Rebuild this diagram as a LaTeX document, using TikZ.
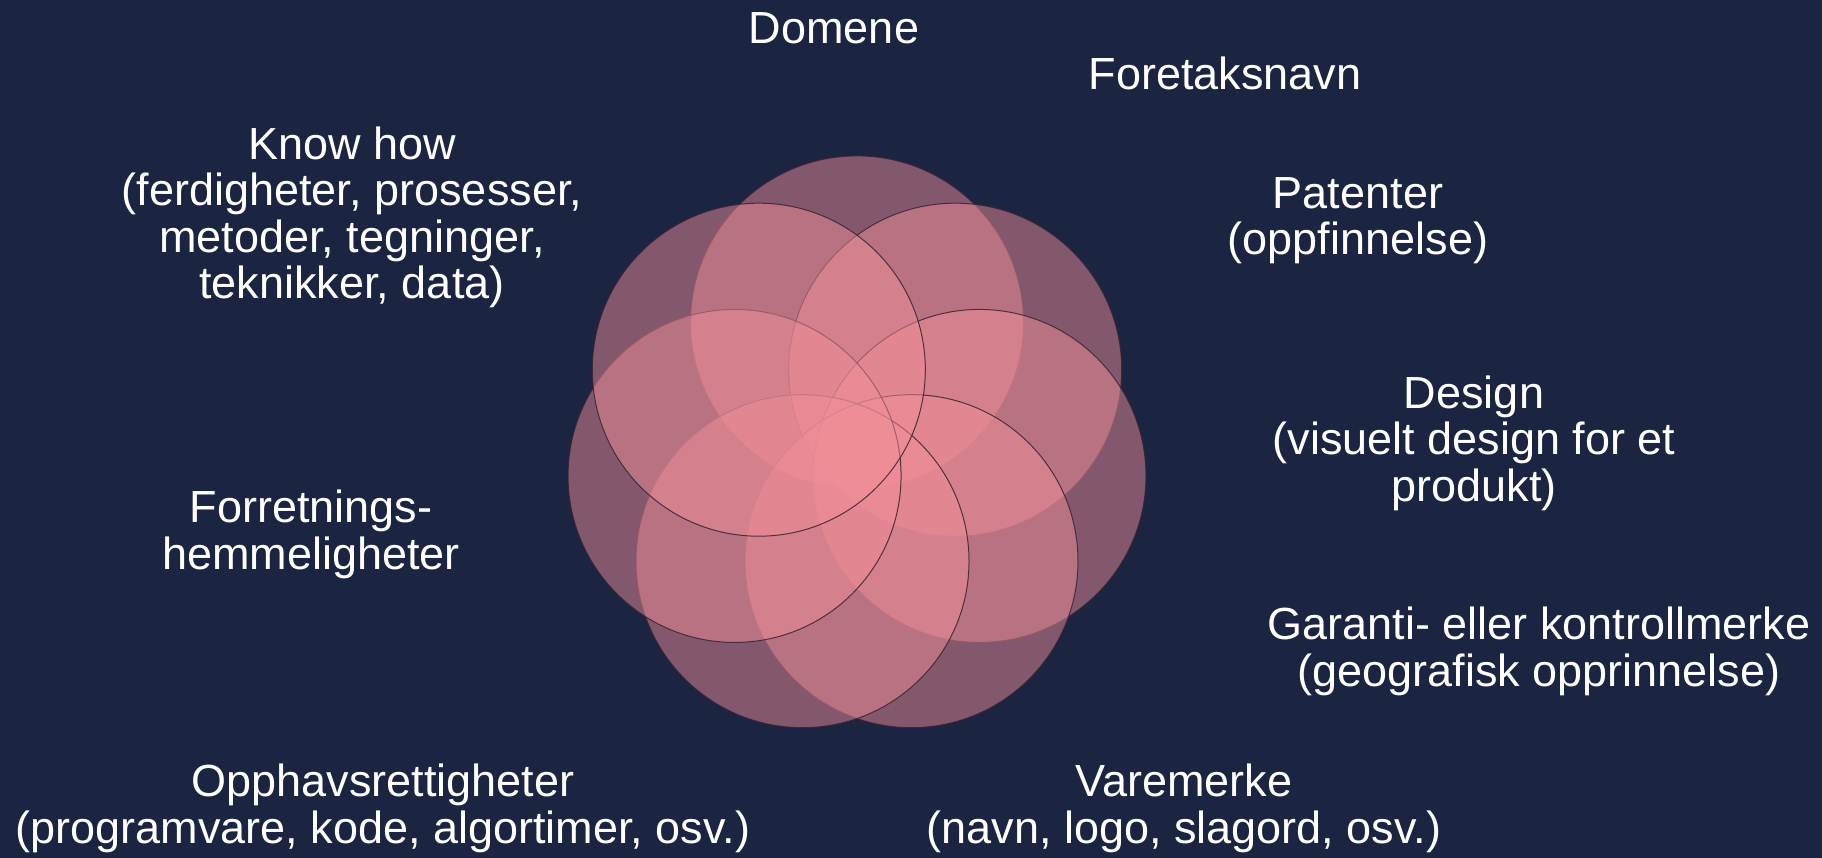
\documentclass[tikz,border=0pt]{standalone}
\usepackage{fontspec}
\setmainfont{Liberation Sans}
\definecolor{bg}{RGB}{27,37,66}
\definecolor{petal}{RGB}{242,143,153}
\definecolor{rim}{RGB}{55,35,50}
\begin{document}
\begin{tikzpicture}[x=1pt,y=-1pt,
  petalstyle/.style={fill=petal, fill opacity=0.49, draw=rim, draw opacity=0.85, line width=1pt},
  lbl/.style={text=white, font=\fontsize{45}{46.5}\selectfont, align=center, anchor=base, inner sep=0pt}]
\fill[bg] (0,0) rectangle (1822,858);
\useasboundingbox (0,0) rectangle (1822,858);
\coordinate (ctr) at (857,448);
\foreach \a in {-90,-38.571,12.857,64.286,115.714,167.143,-141.429} {
  \path[petalstyle, shift={(ctr)}] (\a:125.6) circle[radius=166.5];
}
% anchor=base of a multi-line label = baseline of its last line
\node[lbl] (domene) at (834,44) {Domene};
\node[lbl] (foretak) at (1225,90) {Foretaksnavn};
\node[lbl] (know) at (352,299) {Know how\\(ferdigheter, prosesser,\\metoder, tegninger,\\teknikker, data)};
\node[lbl] (patent) at (1358,255) {Patenter\\(oppfinnelse)};
\node[lbl] (design) at (1474,501) {Design\\(visuelt design for et\\produkt)};
\node[lbl] (forretn) at (311,569) {Forretnings-\\hemmeligheter};
\node[lbl] (garanti) at (1539,686) {Garanti- eller kontrollmerke\\(geografisk opprinnelse)};
\node[lbl] (opphav) at (383,843) {Opphavsrettigheter\\(programvare, kode, algortimer, osv.)};
\node[lbl] (vare) at (1184,843) {Varemerke\\(navn, logo, slagord, osv.)};
\end{tikzpicture}
\end{document}
